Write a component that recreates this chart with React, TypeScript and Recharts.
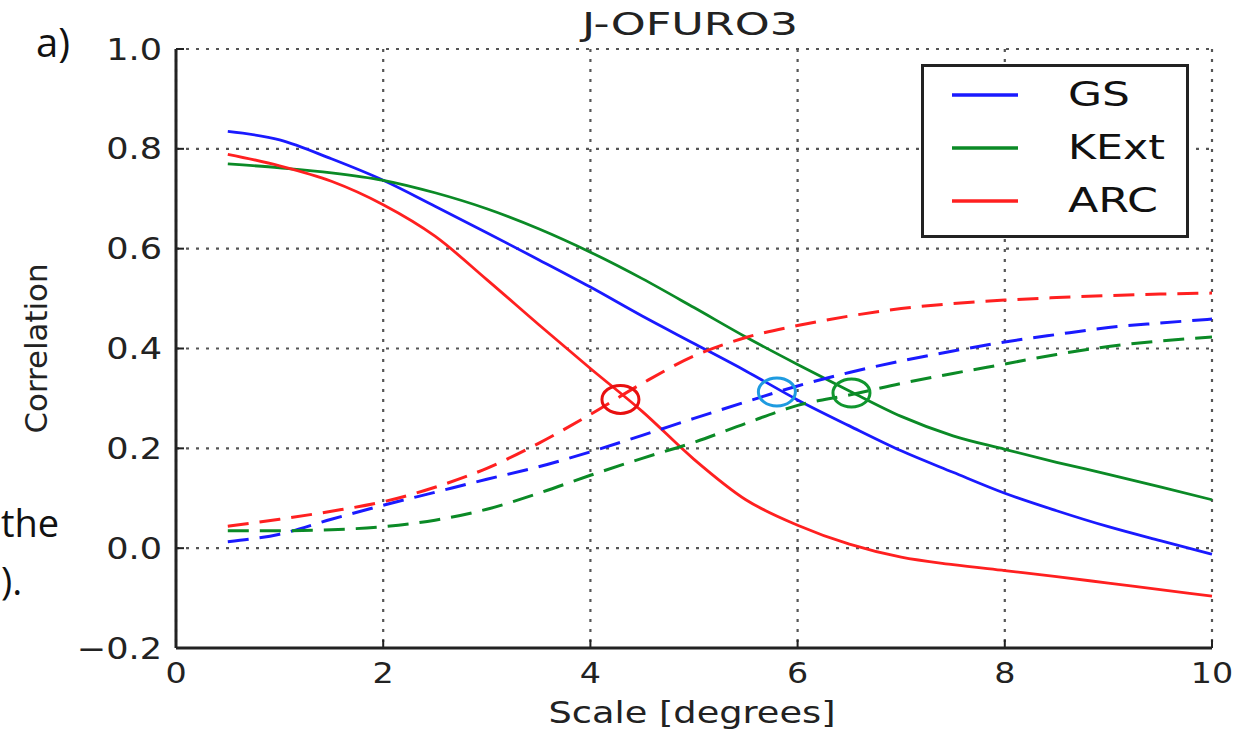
import React from 'react';
import { LineChart, Line, XAxis, YAxis, CartesianGrid, ReferenceDot, Legend, Label } from 'recharts';

// Scale [degrees]
const scaleValues = [0.5, 1, 1.5, 2, 2.5, 3, 3.5, 4, 4.5, 5, 5.5, 6, 6.5, 7, 7.5, 8, 8.5, 9, 9.5, 10];

// Solid curves
const gsSolid = [0.835, 0.818, 0.78, 0.737, 0.685, 0.632, 0.578, 0.523, 0.465, 0.41, 0.355, 0.297, 0.245, 0.195, 0.152, 0.11, 0.075, 0.043, 0.015, -0.012];
const kextSolid = [0.77, 0.762, 0.752, 0.737, 0.712, 0.68, 0.64, 0.593, 0.54, 0.482, 0.423, 0.368, 0.315, 0.264, 0.225, 0.198, 0.172, 0.148, 0.123, 0.097];
const arcSolid = [0.789, 0.766, 0.735, 0.688, 0.625, 0.538, 0.448, 0.36, 0.274, 0.178, 0.097, 0.046, 0.008, -0.018, -0.033, -0.045, -0.057, -0.07, -0.083, -0.096];

// Dashed curves
const gsDashed = [0.013, 0.028, 0.058, 0.086, 0.112, 0.138, 0.163, 0.193, 0.226, 0.26, 0.293, 0.325, 0.352, 0.375, 0.395, 0.413, 0.428, 0.442, 0.451, 0.459];
const kextDashed = [0.035, 0.035, 0.037, 0.043, 0.056, 0.078, 0.11, 0.146, 0.18, 0.212, 0.25, 0.286, 0.307, 0.33, 0.35, 0.369, 0.388, 0.404, 0.415, 0.423];
const arcDashed = [0.044, 0.058, 0.074, 0.093, 0.122, 0.16, 0.21, 0.268, 0.33, 0.385, 0.422, 0.446, 0.465, 0.48, 0.49, 0.497, 0.502, 0.506, 0.509, 0.511];

// Crossing markers
const markerX = [4.29, 5.8, 6.52];
const markerY = [0.298, 0.313, 0.311];
const markerColors = ['#e81010', '#1e9be0', '#10962e'];

const xTicks = [0, 2, 4, 6, 8, 10];
const yTicks = [-0.2, 0, 0.2, 0.4, 0.6, 0.8, 1.0];
const legendOrder = ['GS', 'KExt', 'ARC'];

const BLUE = '#1a1aff';
const GREEN = '#0b8a26';
const RED = '#ff2020';

const data = scaleValues.map((s, i) => ({
  scale: s,
  gs: gsSolid[i],
  kext: kextSolid[i],
  arc: arcSolid[i],
  gsD: gsDashed[i],
  kextD: kextDashed[i],
  arcD: arcDashed[i],
}));

const FONT = '"DejaVu Sans", sans-serif';
const INK = '#222';

const fmtY = (v: number) => (v < 0 ? '\u2212' + Math.abs(v).toFixed(1) : v.toFixed(1));

const YTick = (props: any) => {
  const { x, y, payload } = props;
  return (
    <g transform={`translate(${x},${y})`}>
      <text x={0} y={0} dy={10.5} textAnchor="end" transform="scale(1.17,1)" fontSize={30} fontFamily={FONT} fill={INK}>
        {fmtY(payload.value)}
      </text>
    </g>
  );
};

const XTick = (props: any) => {
  const { x, y, payload } = props;
  return (
    <g transform={`translate(${x},${y})`}>
      <text x={0} y={0} dy={35} textAnchor="middle" transform="scale(1.15,1)" fontSize={29} fontFamily={FONT} fill={INK}>
        {String(payload.value)}
      </text>
    </g>
  );
};

const EmptyTick = () => <g />;

const legendWidths: Record<string, number> = { GS: 62, KExt: 97, ARC: 90 };

const LegendBox = (props: any) => {
  const all = (props.payload || []).filter((p: any) => p.type !== 'none');
  const items = legendOrder.map((name) => all.find((p: any) => p.value === name)).filter(Boolean);
  return (
    <svg width={268} height={174} style={{ display: 'block' }}>
      <rect x={1.5} y={1.5} width={265} height={171} fill="#fff" stroke={INK} strokeWidth={3} />
      {items.map((p: any, i: number) => {
        const cy = 31 + i * 53;
        return (
          <g key={p.value}>
            <line x1={31} x2={97} y1={cy} y2={cy} stroke={p.color} strokeWidth={3.5} />
            <text
              x={147}
              y={cy + 11}
              fontSize={33}
              fontFamily={FONT}
              fill="#111"
              textLength={legendWidths[p.value]}
              lengthAdjust="spacingAndGlyphs"
            >
              {p.value}
            </text>
          </g>
        );
      })}
    </svg>
  );
};

const XLabel = (props: any) => {
  const vb = props.viewBox || { x: 176, y: 648, width: 1036 };
  return (
    <text
      x={vb.x + vb.width / 2 - 2}
      y={vb.y + 75}
      textAnchor="middle"
      fontSize={30}
      fontFamily={FONT}
      fill={INK}
      textLength={287}
      lengthAdjust="spacingAndGlyphs"
    >
      Scale [degrees]
    </text>
  );
};

const YLabel = (props: any) => {
  const vb = props.viewBox || { x: 96, y: 49, width: 80, height: 599 };
  const cx = vb.x - 49;
  const cy = vb.y + vb.height / 2;
  return (
    <text
      x={cx}
      y={cy}
      transform={`rotate(-90 ${cx} ${cy})`}
      textAnchor="middle"
      fontSize={30}
      fontFamily={FONT}
      fill={INK}
      textLength={170}
      lengthAdjust="spacingAndGlyphs"
    >
      Correlation
    </text>
  );
};

const axisLine = { stroke: INK, strokeWidth: 3 };
const tickLine = { stroke: INK, strokeWidth: 2 };
const DASH = '21 11';

export default function App() {
  return (
    <div style={{ position: 'fixed', left: 0, top: 0, width: 1240, height: 731, background: '#fff' }}>
      <LineChart width={1240} height={731} data={data} margin={{ top: 49, right: 28, bottom: 33, left: 96 }}>
        <CartesianGrid stroke="#555" strokeDasharray="3 7" strokeWidth={2.2} />
        <XAxis
          dataKey="scale"
          type="number"
          domain={[0, 10]}
          ticks={xTicks}
          height={50}
          axisLine={axisLine}
          tickLine={tickLine}
          tickSize={-8}
          tickMargin={8}
          tick={<XTick />}
          interval={0}
        >
          <Label content={<XLabel />} />
        </XAxis>
        <XAxis
          xAxisId="top"
          orientation="top"
          type="number"
          domain={[0, 10]}
          ticks={xTicks}
          height={0}
          axisLine={axisLine}
          tickLine={tickLine}
          tickSize={-8}
          tick={<EmptyTick />}
          interval={0}
        />
        <YAxis
          type="number"
          domain={[-0.2, 1.0]}
          ticks={yTicks}
          width={80}
          axisLine={axisLine}
          tickLine={tickLine}
          tickSize={-8}
          tickMargin={22}
          tick={<YTick />}
          interval={0}
        >
          <Label content={<YLabel />} />
        </YAxis>
        <YAxis
          yAxisId="right"
          orientation="right"
          type="number"
          domain={[-0.2, 1.0]}
          ticks={yTicks}
          width={0}
          axisLine={axisLine}
          tickLine={tickLine}
          tickSize={-8}
          tick={<EmptyTick />}
          interval={0}
        />
        <Line name="GS" dataKey="gs" type="monotone" stroke={BLUE} strokeWidth={2.8} dot={false} isAnimationActive={false} />
        <Line name="KExt" dataKey="kext" type="monotone" stroke={GREEN} strokeWidth={2.8} dot={false} isAnimationActive={false} />
        <Line name="ARC" dataKey="arc" type="monotone" stroke={RED} strokeWidth={2.8} dot={false} isAnimationActive={false} />
        <Line name="GS dashed" dataKey="gsD" type="monotone" stroke={BLUE} strokeWidth={3} strokeDasharray={DASH} dot={false} legendType="none" isAnimationActive={false} />
        <Line name="KExt dashed" dataKey="kextD" type="monotone" stroke={GREEN} strokeWidth={3} strokeDasharray={DASH} dot={false} legendType="none" isAnimationActive={false} />
        <Line name="ARC dashed" dataKey="arcD" type="monotone" stroke={RED} strokeWidth={3} strokeDasharray={DASH} dot={false} legendType="none" isAnimationActive={false} />
        {markerX.map((mx, i) => (
          <ReferenceDot
            key={i}
            x={mx}
            y={markerY[i]}
            r={18}
            shape={(p: any) => (
              <ellipse cx={p.cx} cy={p.cy} rx={18.5} ry={14} fill="none" stroke={markerColors[i]} strokeWidth={3} />
            )}
          />
        ))}
        <Legend
          layout="horizontal"
          verticalAlign="middle"
          align="center"
          content={<LegendBox />}
          wrapperStyle={{ left: 921, top: 64, width: 268, height: 174 }}
        />
      </LineChart>
      <svg width={1240} height={731} style={{ position: 'absolute', left: 0, top: 0, pointerEvents: 'none' }}>
        <text
          x={690}
          y={35}
          textAnchor="middle"
          fontSize={32}
          fontFamily={FONT}
          fill={INK}
          textLength={216}
          lengthAdjust="spacingAndGlyphs"
        >
          J-OFURO3
        </text>
        <text x={36} y={57} fontSize={40} fontFamily='"Open Sans", sans-serif' fill="#111">a)</text>
        <text x={1} y={537} fontSize={38} fontFamily='"Open Sans", sans-serif' fill="#111">the</text>
        <text x={1} y={595} fontSize={38} fontFamily='"Open Sans", sans-serif' fill="#111">).</text>
      </svg>
    </div>
  );
}
